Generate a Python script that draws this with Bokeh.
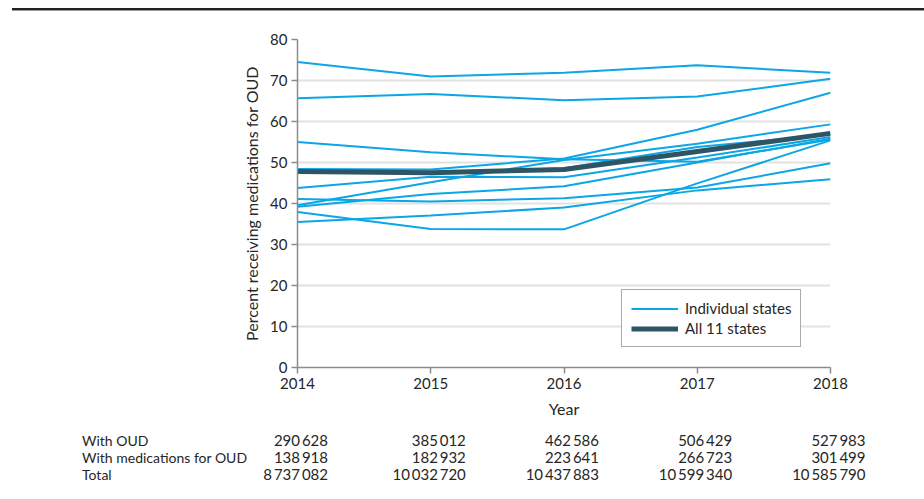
from bokeh.plotting import figure
from bokeh.models import (Range1d, Legend, LegendItem, FixedTicker, Spacer, Div)
from bokeh.layouts import column
from bokeh.embed import file_html
from bokeh.resources import INLINE

# ---------------- data ----------------
years = [2014, 2015, 2016, 2017, 2018]
state_a = [74.5, 71.0, 71.9, 73.7, 71.9]
state_b = [65.7, 66.7, 65.2, 66.1, 70.4]
state_c = [55.0, 52.5, 50.8, 50.2, 55.6]
state_d = [48.4, 48.3, 51.0, 58.0, 67.0]
state_e = [43.8, 46.5, 46.4, 51.2, 56.2]
state_f = [39.6, 45.2, 50.6, 54.6, 59.3]
state_g = [41.1, 40.5, 41.3, 43.9, 49.8]
state_h = [39.2, 42.3, 44.2, 50.0, 55.8]
state_i = [37.9, 33.8, 33.7, 44.9, 55.4]
state_j = [35.5, 37.1, 39.0, 43.2, 45.9]
state_k = [47.6, 47.3, 48.6, 53.8, 56.8]
all_states = [47.8, 47.5, 48.3, 52.7, 57.1]

row_labels = ["With OUD", "With medications for OUD", "Total"]
with_oud = [290628, 385012, 462586, 506429, 527983]
with_moud = [138918, 182932, 223641, 266723, 301499]
total = [8737082, 10032720, 10437883, 10599340, 10585790]

y_ticks = [0, 10, 20, 30, 40, 50, 60, 70, 80]

# ---------------- style ----------------
FONT = "Lato"
TXT = "#262626"
BLUE = "#0AA6E6"
DARK = "#2E5566"
W = 924
LEFT = 297
FRAME_W = 533
TOP = 28
FRAME_H = 328
P_H = 421

# top rule
rule = Div(text="", width=912, height=1, margin=0,
           styles={"margin-left": "12px", "border-top": "2px solid #222222",
                   "background-color": "#9a9a9a", "box-sizing": "content-box"})

p = figure(width=W, height=P_H, output_backend="svg", toolbar_location=None,
           x_range=Range1d(2014, 2018), y_range=Range1d(0, 80),
           min_border_left=LEFT, min_border_right=W - LEFT - FRAME_W,
           min_border_top=TOP, min_border_bottom=P_H - TOP - FRAME_H)
p.outline_line_color = None
p.xgrid.visible = False
p.ygrid.grid_line_color = "#e2e2e2"
p.ygrid.grid_line_width = 2
p.yaxis.ticker = FixedTicker(ticks=y_ticks)
p.xaxis.ticker = FixedTicker(ticks=years)
for ax in (p.xaxis[0], p.yaxis[0]):
    ax.axis_line_color = "#8c8c8c"
    ax.axis_line_width = 1.5
    ax.major_tick_line_color = "#8c8c8c"
    ax.major_tick_line_width = 1.5
    ax.major_tick_out = 6
    ax.major_tick_in = 0
    ax.minor_tick_line_color = None
    ax.major_label_text_font = FONT
    ax.major_label_text_font_size = "15px"
    ax.major_label_text_color = TXT
    ax.axis_label_text_font = FONT
    ax.axis_label_text_font_size = "16px"
    ax.axis_label_text_font_style = "normal"
    ax.axis_label_text_color = TXT
p.yaxis.axis_label = "Percent receiving medications for OUD"
p.xaxis.axis_label = "Year"
p.yaxis.axis_label_standoff = 6
p.xaxis.axis_label_standoff = 7
p.yaxis.major_label_standoff = 4
p.xaxis.major_label_standoff = 4

state_series = [state_a, state_b, state_c, state_d, state_e, state_f,
                state_g, state_h, state_i, state_j, state_k]
state_renderers = [p.line(years, s, line_color=BLUE, line_width=2)
                   for s in state_series]
all_r = p.line(years, all_states, line_color=DARK, line_width=5)

legend = Legend(items=[LegendItem(label="Individual states", renderers=[state_renderers[0]]),
                       LegendItem(label="All 11 states", renderers=[all_r])],
                location=(324, 20))
legend.label_text_font = FONT
legend.label_text_font_size = "15px"
legend.label_text_color = TXT
legend.glyph_width = 47
legend.glyph_height = 17
legend.label_height = 17
legend.label_standoff = 7
legend.spacing = 2
legend.padding = 9
legend.margin = 0
legend.border_line_color = "#555555"
legend.border_line_width = 1.2
legend.background_fill_alpha = 1
p.add_layout(legend, "center")

# ---------------- table under the chart ----------------
def fmt(n):
    return f"{n:,}".replace(",", "\u2009")

px_per_year = FRAME_W / (years[-1] - years[0])
ROW_H = 17
spans = []
for i, (lab, vals) in enumerate(zip(row_labels, [with_oud, with_moud, total])):
    top = i * ROW_H
    spans.append(f'<span style="position:absolute;left:82px;top:{top}px;'
                 f'line-height:{ROW_H}px;white-space:nowrap;font-size:14px">{lab}</span>')
    for j, (yr, v) in enumerate(zip(years, vals)):
        right_edge = LEFT + (yr - years[0]) * px_per_year + (31 if j == 0 else 35.5)
        spans.append(f'<span style="position:absolute;right:{W - right_edge:.1f}px;'
                     f'top:{top}px;line-height:{ROW_H}px;white-space:nowrap">{fmt(v)}</span>')
table_html = (f'<div style="position:relative;width:{W}px;height:{3 * ROW_H}px;'
              f'font-family:{FONT};font-size:15px;color:{TXT}">' + "".join(spans) + "</div>")
table = Div(text=table_html, width=W, height=3 * ROW_H, margin=0)

layout = column(Spacer(height=8), rule, p, table)
open("out.html", "w").write(file_html(layout, INLINE))
